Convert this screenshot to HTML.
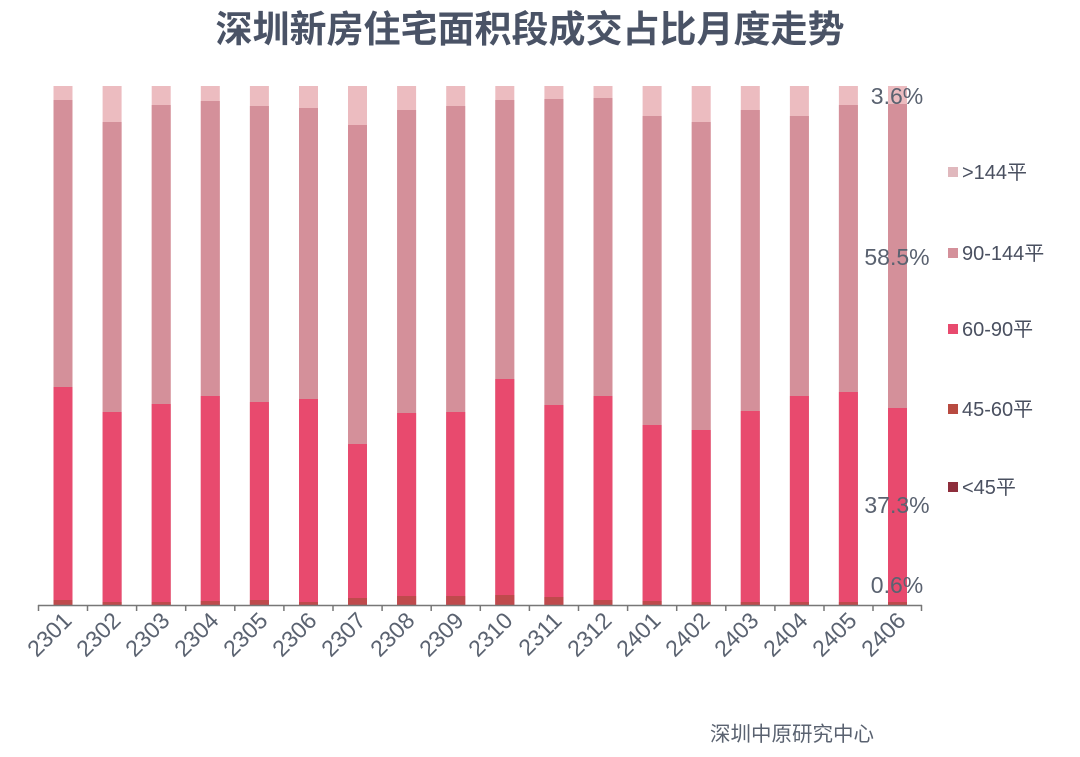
<!DOCTYPE html>
<html><head><meta charset="utf-8"><style>
html,body{margin:0;padding:0;background:#fff;}
svg{display:block;}
text{font-family:"Liberation Sans","Noto Sans CJK SC",sans-serif;}
</style></head><body>
<svg width="1080" height="757" viewBox="0 0 1080 757" xmlns="http://www.w3.org/2000/svg">
<text x="530" y="42" text-anchor="middle" font-size="37" font-weight="bold" fill="#4a5366" font-family="'Noto Sans CJK SC',sans-serif">深圳新房住宅面积段成交占比月度走势</text>
<g>
<g fill="#ecbcc0">
<rect x="53.5" y="86" width="19" height="519"/><rect x="102.6" y="86" width="19" height="519"/><rect x="151.7" y="86" width="19" height="519"/><rect x="200.8" y="86" width="19" height="519"/><rect x="249.9" y="86" width="19" height="519"/><rect x="299" y="86" width="19" height="519"/><rect x="348" y="86" width="19" height="519"/><rect x="397.1" y="86" width="19" height="519"/><rect x="446.2" y="86" width="19" height="519"/><rect x="495.3" y="86" width="19" height="519"/><rect x="544.4" y="86" width="19" height="519"/><rect x="593.5" y="86" width="19" height="519"/><rect x="642.6" y="86" width="19" height="519"/><rect x="691.7" y="86" width="19" height="519"/><rect x="740.8" y="86" width="19" height="519"/><rect x="789.9" y="86" width="19" height="519"/><rect x="838.9" y="86" width="19" height="519"/><rect x="888" y="86" width="19" height="519"/>
</g>
<g fill="#d4909a">
<rect x="53.5" y="100" width="19" height="505"/><rect x="102.6" y="122" width="19" height="483"/><rect x="151.7" y="105" width="19" height="500"/><rect x="200.8" y="101" width="19" height="504"/><rect x="249.9" y="106" width="19" height="499"/><rect x="299" y="108" width="19" height="497"/><rect x="348" y="125" width="19" height="480"/><rect x="397.1" y="110" width="19" height="495"/><rect x="446.2" y="106" width="19" height="499"/><rect x="495.3" y="100" width="19" height="505"/><rect x="544.4" y="99" width="19" height="506"/><rect x="593.5" y="98" width="19" height="507"/><rect x="642.6" y="116" width="19" height="489"/><rect x="691.7" y="122" width="19" height="483"/><rect x="740.8" y="110" width="19" height="495"/><rect x="789.9" y="116" width="19" height="489"/><rect x="838.9" y="105" width="19" height="500"/><rect x="888" y="104" width="19" height="501"/>
</g>
<g fill="#e84a6e">
<rect x="53.5" y="387" width="19" height="218"/><rect x="102.6" y="412" width="19" height="193"/><rect x="151.7" y="404" width="19" height="201"/><rect x="200.8" y="396" width="19" height="209"/><rect x="249.9" y="402" width="19" height="203"/><rect x="299" y="399" width="19" height="206"/><rect x="348" y="444" width="19" height="161"/><rect x="397.1" y="413" width="19" height="192"/><rect x="446.2" y="412" width="19" height="193"/><rect x="495.3" y="379" width="19" height="226"/><rect x="544.4" y="405" width="19" height="200"/><rect x="593.5" y="396" width="19" height="209"/><rect x="642.6" y="425" width="19" height="180"/><rect x="691.7" y="430" width="19" height="175"/><rect x="740.8" y="411" width="19" height="194"/><rect x="789.9" y="396" width="19" height="209"/><rect x="838.9" y="392" width="19" height="213"/><rect x="888" y="408" width="19" height="197"/>
</g>
<g fill="#bf4a4c">
<rect x="53.5" y="600" width="19" height="5"/><rect x="102.6" y="602" width="19" height="3"/><rect x="151.7" y="602" width="19" height="3"/><rect x="200.8" y="601" width="19" height="4"/><rect x="249.9" y="600" width="19" height="5"/><rect x="299" y="602" width="19" height="3"/><rect x="348" y="598" width="19" height="7"/><rect x="397.1" y="596" width="19" height="9"/><rect x="446.2" y="596" width="19" height="9"/><rect x="495.3" y="595" width="19" height="10"/><rect x="544.4" y="597" width="19" height="8"/><rect x="593.5" y="600" width="19" height="5"/><rect x="642.6" y="601" width="19" height="4"/><rect x="691.7" y="602" width="19" height="3"/><rect x="740.8" y="602" width="19" height="3"/><rect x="789.9" y="602" width="19" height="3"/><rect x="838.9" y="602" width="19" height="3"/><rect x="888" y="602" width="19" height="3"/>
</g>
</g>
<line x1="38" y1="605.5" x2="922" y2="605.5" stroke="#777" stroke-width="1.5"/>
<g stroke="#777" stroke-width="1.5">
<line x1="38.5" y1="605" x2="38.5" y2="611"/><line x1="87.5" y1="605" x2="87.5" y2="611"/><line x1="136.6" y1="605" x2="136.6" y2="611"/><line x1="185.7" y1="605" x2="185.7" y2="611"/><line x1="234.8" y1="605" x2="234.8" y2="611"/><line x1="283.9" y1="605" x2="283.9" y2="611"/><line x1="333" y1="605" x2="333" y2="611"/><line x1="382.1" y1="605" x2="382.1" y2="611"/><line x1="431.2" y1="605" x2="431.2" y2="611"/><line x1="480.3" y1="605" x2="480.3" y2="611"/><line x1="529.4" y1="605" x2="529.4" y2="611"/><line x1="578.5" y1="605" x2="578.5" y2="611"/><line x1="627.6" y1="605" x2="627.6" y2="611"/><line x1="676.7" y1="605" x2="676.7" y2="611"/><line x1="725.8" y1="605" x2="725.8" y2="611"/><line x1="774.9" y1="605" x2="774.9" y2="611"/><line x1="824" y1="605" x2="824" y2="611"/><line x1="873" y1="605" x2="873" y2="611"/><line x1="921.5" y1="605" x2="921.5" y2="611"/>
</g>
<g font-size="23" fill="#5a6270" text-anchor="end">
<text transform="translate(73,622) rotate(-45)">2301</text>
<text transform="translate(122,622) rotate(-45)">2302</text>
<text transform="translate(171,622) rotate(-45)">2303</text>
<text transform="translate(220,622) rotate(-45)">2304</text>
<text transform="translate(269,622) rotate(-45)">2305</text>
<text transform="translate(318,622) rotate(-45)">2306</text>
<text transform="translate(367,622) rotate(-45)">2307</text>
<text transform="translate(416,622) rotate(-45)">2308</text>
<text transform="translate(465,622) rotate(-45)">2309</text>
<text transform="translate(514,622) rotate(-45)">2310</text>
<text transform="translate(563,622) rotate(-45)">2311</text>
<text transform="translate(613,622) rotate(-45)">2312</text>
<text transform="translate(662,622) rotate(-45)">2401</text>
<text transform="translate(711,622) rotate(-45)">2402</text>
<text transform="translate(760,622) rotate(-45)">2403</text>
<text transform="translate(809,622) rotate(-45)">2404</text>
<text transform="translate(858,622) rotate(-45)">2405</text>
<text transform="translate(907,622) rotate(-45)">2406</text>
</g>
<g font-size="23" fill="#5a6270" text-anchor="middle">
<text x="897" y="104">3.6%</text>
<text x="897" y="265">58.5%</text>
<text x="897" y="513">37.3%</text>
<text x="897" y="593">0.6%</text>
</g>
<g font-size="20" fill="#4a5060">
<rect x="948" y="167" width="10" height="10" fill="#e0b8bd"/><text x="962" y="179">&gt;144平</text>
<rect x="948" y="248" width="10" height="10" fill="#d4909a"/><text x="962" y="260">90-144平</text>
<rect x="948" y="324" width="10" height="10" fill="#e84a6e"/><text x="962" y="336">60-90平</text>
<rect x="948" y="404" width="10" height="10" fill="#b84a40"/><text x="962" y="416">45-60平</text>
<rect x="948" y="482" width="10" height="10" fill="#8e2e3c"/><text x="962" y="494">&lt;45平</text>
</g>
<text x="710" y="741" font-size="20.5" fill="#5a6270" font-family="'Noto Sans CJK SC',sans-serif">深圳中原研究中心</text>
</svg>
</body></html>
